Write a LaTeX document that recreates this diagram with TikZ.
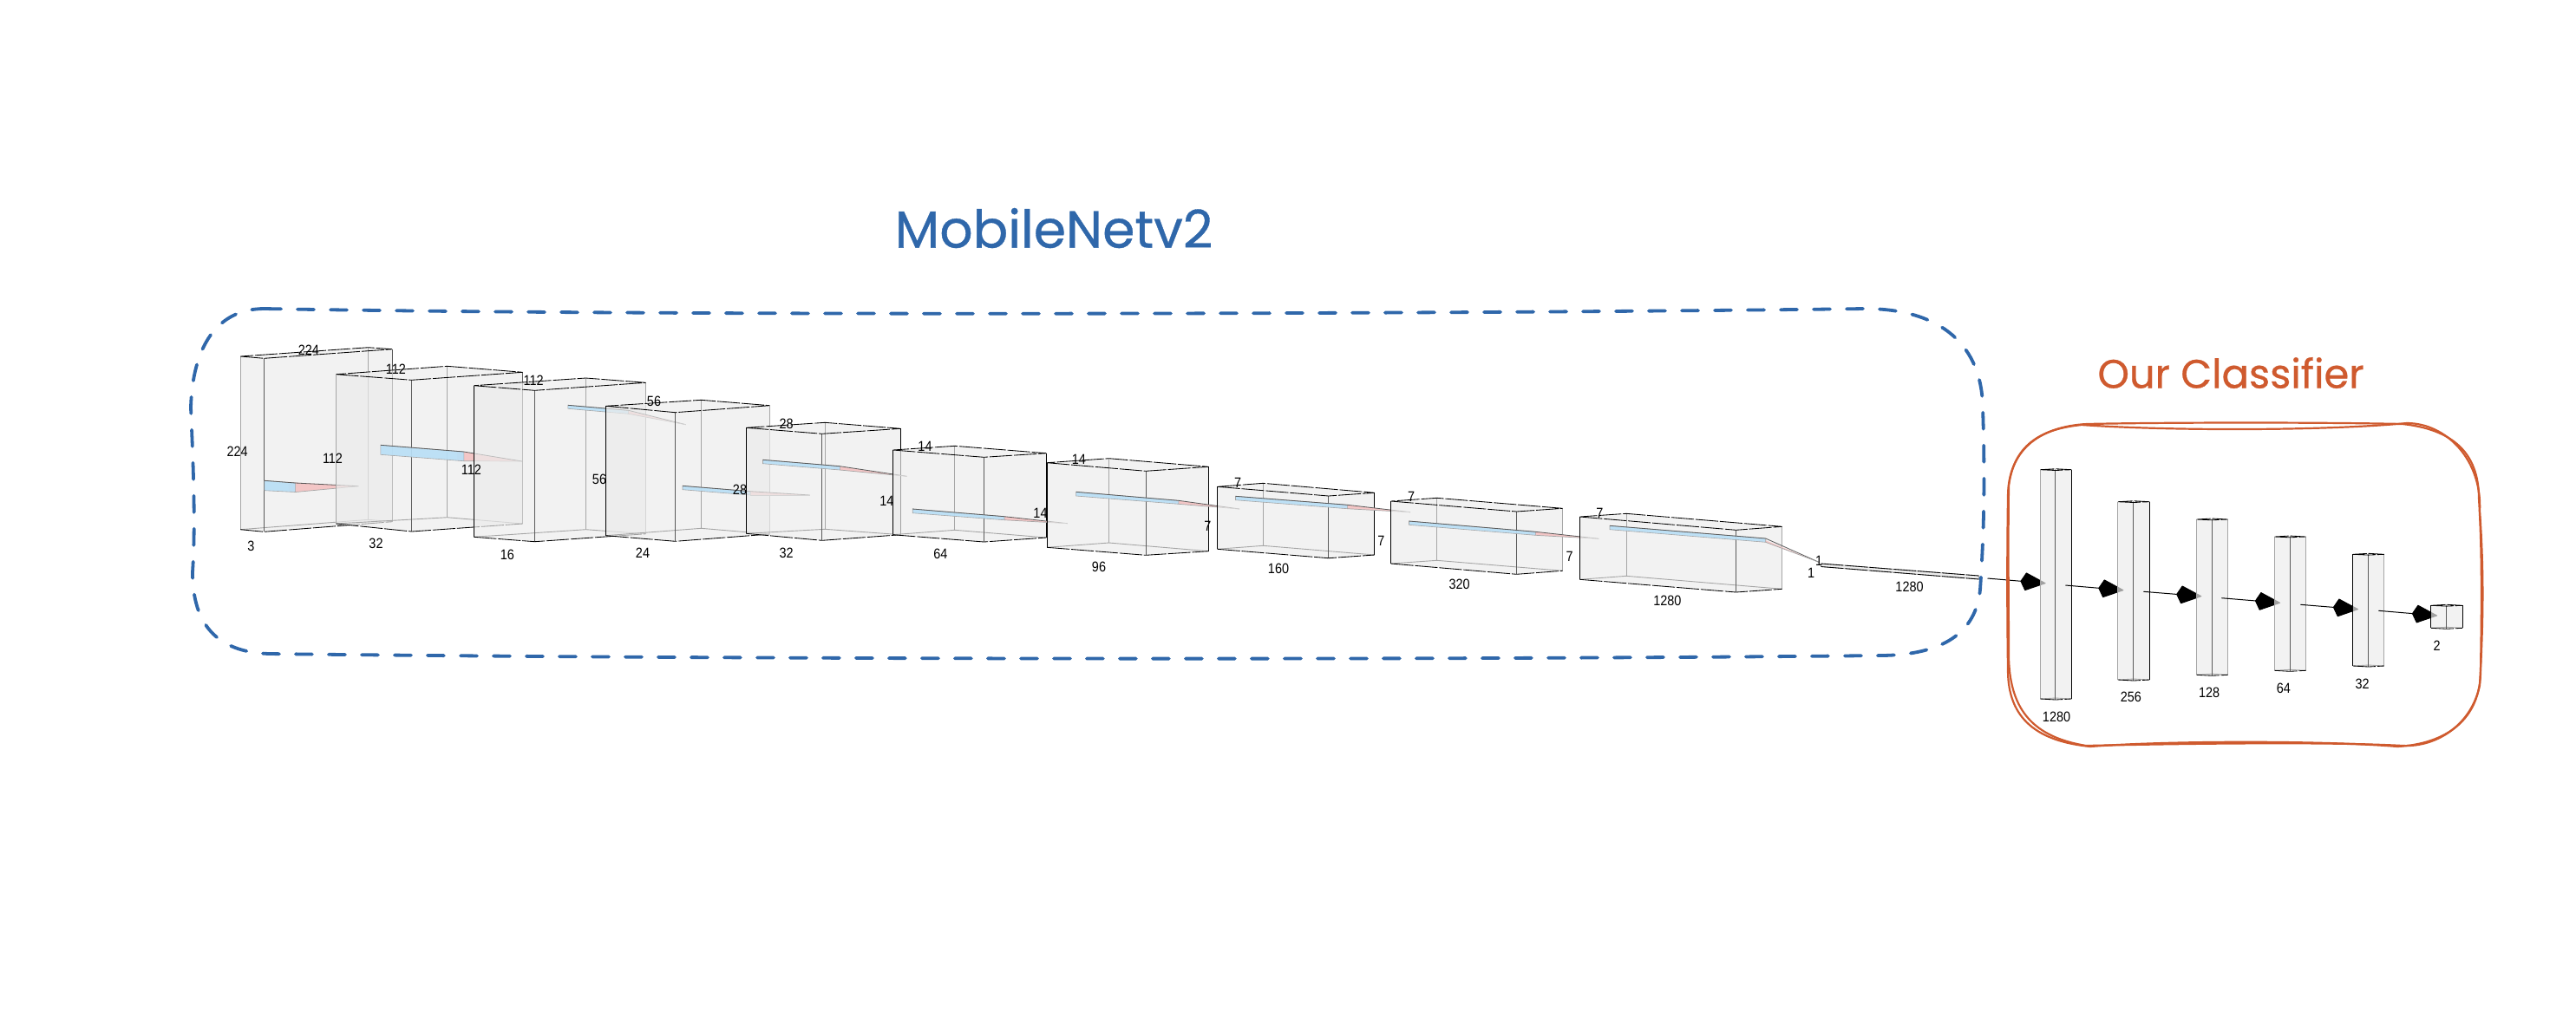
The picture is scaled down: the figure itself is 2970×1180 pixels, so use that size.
\documentclass[tikz,border=0pt]{standalone}
\usepackage{fontspec}
\setmainfont{Liberation Sans}
\newfontfamily\handfont[FakeBold=0.6]{Poppins}
\usetikzlibrary{arrows.meta}
\definecolor{sketchblue}{HTML}{2F67AA}
\definecolor{sketchorange}{HTML}{CF5A2E}
\definecolor{facegray}{HTML}{ECECEC}
\definecolor{edgegray}{HTML}{A6A6A6}
\definecolor{edgedark}{HTML}{5A5A5A}
\definecolor{wedgeblue}{HTML}{B9DFF6}
\definecolor{wedgepink}{HTML}{F3C6C6}
\tikzset{
  face/.style={fill=facegray,fill opacity=0.68,draw=none},
  edgek/.style={draw=black,line width=0.42pt,dash pattern=on 13pt off 1pt},
  edgeg/.style={draw=edgegray,line width=0.45pt},
  dim/.style={font=\fontsize{8.2pt}{9pt}\selectfont,inner sep=0pt,xscale=0.88},
  arr/.style={draw=black,line width=0.5pt,-{Kite[length=15pt,width=10.5pt,inset=3pt,round]}},
  bluebox/.style={draw=sketchblue,line width=1.9pt,line cap=round,dash pattern=on 9.5pt off 9.5pt},
  orangebox/.style={draw=sketchorange,line width=1.1pt,line cap=round},
  bluet/.style={text=sketchblue,font=\handfont\fontsize{30pt}{34pt}\selectfont,inner sep=0pt},
  oranget/.style={text=sketchorange,font=\handfont\fontsize{23.2pt}{27pt}\selectfont,inner sep=0pt}
}
% A top, A bottom, B top, B bottom, C top, C bottom, D top, D bottom, colours A/C
\def\splitcol#1/#2\end{\def\colA{#1}\def\colC{#2}}
\newcommand{\cub}[9]{%
  \splitcol#9\end
  \fill[face] (#1) -- (#7) -- (#5) -- (#6) -- (#4) -- (#2) -- cycle;
  \draw[edgeg] (#7) -- (#8);
  \draw[edgeg] (#2) -- (#8) -- (#6);
  \draw[edgeg,draw=\colA] (#1) -- (#2);
  \draw[edgeg,draw=\colC] (#5) -- (#6);
  \draw[edgeg,draw=edgedark] (#3) -- (#4);
  \draw[edgek] (#1) -- (#3) -- (#5) -- (#7) -- cycle;
  \draw[edgek] (#2) -- (#4) -- (#6);
}
% x1 t1 b1 x2 t2 b2 apex-x apex-y
\newcommand{\wdg}[8]{%
  \fill[wedgepink] (#4-8,#5-1) -- (#7,#8) -- (#4,#6) -- (#4-8,#6-0.5) -- cycle;
  \fill[wedgeblue,fill opacity=0.92] (#1,#2) -- (#4,#5) -- (#4,#6) -- (#1,#3) -- cycle;
  \draw[edgegray,line width=0.3pt] (#1,#2) -- (#4,#5) -- (#4,#6) -- (#1,#3) -- cycle;
  \draw[edgedark,line width=0.4pt] (#1,#2) -- (#4,#5) -- (#7,#8);
  \draw[edgegray,line width=0.35pt] (#4,#6) -- (#7,#8);
}
\begin{document}
\begin{tikzpicture}[x=0.5pt,y=-0.5pt]
\useasboundingbox (0,0) rectangle (2970,1180);
\fill[white] (0,0) rectangle (2970,1180);

% backbone cuboids and their convolution wedges
\cub{277.2,411}{277.2,610.7}{304.5,413.3}{304.5,613.3}{452.2,402.7}{452.2,601.7}{424.6,400.7}{424.6,599.3}{edgegray/edgedark}
\wdg{304.9}{554.3}{565.7}{340.6}{557}{567.5}{413.4}{560.7}
\cub{387.5,431.7}{387.5,604}{474.6,438.3}{474.6,613}{602.7,429.3}{602.7,604}{515.6,422.3}{515.6,596.7}{edgegray/edgedark}
\wdg{438.8}{513.3}{524.3}{534.8}{521}{531.7}{601.8}{532}
\cub{546.4,444.7}{546.4,619.3}{616.5,450.3}{616.5,624.7}{744.6,441.3}{744.6,615.7}{675.4,436}{675.4,610.7}{black/edgegray}
\wdg{654.9}{467.3}{471.3}{724.6}{473.3}{477.3}{790.6}{489.7}
\cub{698.7,468.3}{698.7,617.7}{778.6,475.7}{778.6,624.3}{887.5,467.7}{887.5,616}{808.5,461.3}{808.5,609.3}{black/edgegray}
\wdg{787}{560.3}{564.7}{865.2}{566.7}{571}{933.9}{571}
\cub{860.3,493.3}{860.3,615.3}{947.8,500.3}{947.8,623.3}{1038.4,494.3}{1038.4,616.7}{951.3,487.3}{951.3,610.3}{black/black}
\wdg{879.5}{530.3}{534.7}{968.3}{537.7}{542}{1045.5}{549.3}
\cub{1029.5,519}{1029.5,616.7}{1134.4,527.3}{1134.4,625}{1206.3,522.7}{1206.3,620}{1100.9,514.3}{1100.9,611.3}{black/black}
\wdg{1052.2}{587}{591.7}{1158}{595.7}{599.7}{1230.8}{603.7}
\cub{1207.1,533.7}{1207.1,631.3}{1321,543.3}{1321,640.3}{1393.3,538.3}{1393.3,635.7}{1278.6,528.7}{1278.6,626}{black/black}
\wdg{1240.6}{567.3}{572}{1358.9}{577.3}{581.3}{1429}{587}
\cub{1403.6,561.3}{1403.6,633.3}{1531.7,572}{1531.7,643.7}{1584.7,568.3}{1584.7,640}{1456.3,557.3}{1456.3,629.3}{black/black}
\wdg{1424.5}{572.3}{576.7}{1553.6}{582.3}{586.7}{1626}{590.7}
\cub{1603.6,578}{1603.6,650}{1748.5,590}{1748.5,662.3}{1801.5,586.3}{1801.5,658.3}{1656.6,574.3}{1656.6,646.3}{black/edgegray}
\wdg{1624.5}{601}{605.3}{1770.4}{613.3}{617.3}{1843.4}{621.3}
\cub{1821.4,596}{1821.4,668.3}{2001.5,611.3}{2001.5,683}{2054.6,607.3}{2054.6,679.3}{1875,592.3}{1875,664.3}{black/edgegray}
\wdg{1856}{606.3}{610.7}{2035.7}{621}{625.3}{2097}{648.3}

% flattened layer
\fill[facegray,draw=edgegray,line width=0.4pt] (2099.5,650) -- (2281.6,664) -- (2281.6,668) -- (2099.5,653.5) -- cycle;
\draw[edgek] (2099.5,650) -- (2281.6,664);
\draw[edgek] (2099.5,653.5) -- (2281.6,668);

% classifier
\coordinate (c0s) at (2291.5,667);
\coordinate (c0e) at (2358.5,672.7);
\draw[arr] (c0s) -- (c0e);
\cub{2352.3,541.7}{2352.3,806}{2369.9,542.5}{2369.9,807}{2388.3,541.7}{2388.3,806}{2369.9,540.7}{2369.9,805}{edgegray/black}
\coordinate (c1s) at (2381.4,675);
\coordinate (c1e) at (2448.4,680.7);
\draw[arr] (c1s) -- (c1e);
\cub{2441.9,578.7}{2441.9,784}{2459.9,579.5}{2459.9,785}{2478.2,578.7}{2478.2,784}{2459.9,577.7}{2459.9,783}{edgegray/black}
\coordinate (c2s) at (2471.4,682.3);
\coordinate (c2e) at (2538.3,687.7);
\draw[arr] (c2s) -- (c2e);
\cub{2532.6,599}{2532.6,778.3}{2550.2,599.8}{2550.2,779.3}{2568.6,599}{2568.6,778.3}{2550.2,598}{2550.2,777.3}{edgegray/edgegray}
\coordinate (c3s) at (2561.3,689.7);
\coordinate (c3e) at (2629,695.3);
\draw[arr] (c3s) -- (c3e);
\cub{2622.5,619}{2622.5,773.3}{2640.1,619.8}{2640.1,774.3}{2658.5,619}{2658.5,773.3}{2640.1,618}{2640.1,772.3}{edgegray/edgegray}
\coordinate (c4s) at (2652.4,697.3);
\coordinate (c4e) at (2719,702.7);
\draw[arr] (c4s) -- (c4e);
\cub{2712.8,639.3}{2712.8,768}{2730.8,640.1}{2730.8,769}{2748.8,639.3}{2748.8,768}{2730.8,638.3}{2730.8,767}{black/edgegray}
\coordinate (c5s) at (2742.3,704.3);
\coordinate (c5e) at (2810,710);
\draw[arr] (c5s) -- (c5e);
\cub{2802.8,698.3}{2802.8,724.3}{2820.8,699.1}{2820.8,725.3}{2839.1,698.3}{2839.1,724.3}{2820.8,697.3}{2820.8,723.3}{black/black}

% dimension labels
\node[dim] (n01) at (355.8,403.7) {224};
\node[dim] (n02) at (273.7,520.7) {224};
\node[dim] (n03) at (289.3,630) {3};
\node[dim] (n04) at (456.3,425.3) {112};
\node[dim] (n05) at (383.5,528.7) {112};
\node[dim] (n06) at (433.5,627) {32};
\node[dim] (n07) at (615.2,438.3) {112};
\node[dim] (n08) at (543.3,541.7) {112};
\node[dim] (n09) at (584.8,639.7) {16};
\node[dim] (n10) at (754,463.3) {56};
\node[dim] (n11) at (691,553.3) {56};
\node[dim] (n12) at (741,638) {24};
\node[dim] (n13) at (906.7,488.7) {28};
\node[dim] (n14) at (853,565.3) {28};
\node[dim] (n15) at (906.7,638.3) {32};
\node[dim] (n16) at (1066.5,514.7) {14};
\node[dim] (n17) at (1022.3,577.7) {14};
\node[dim] (n18) at (1084.4,638.7) {64};
\node[dim] (n19) at (1199.5,592.3) {14};
\node[dim] (n20) at (1243.8,529.7) {14};
\node[dim] (n21) at (1267,653.7) {96};
\node[dim] (n22) at (1392.4,607.3) {7};
\node[dim] (n23) at (1427.2,557.3) {7};
\node[dim] (n24) at (1474,656.3) {160};
\node[dim] (n25) at (1592.3,624) {7};
\node[dim] (n26) at (1627,573.3) {7};
\node[dim] (n27) at (1682.7,673.7) {320};
\node[dim] (n28) at (1809.7,642) {7};
\node[dim] (n29) at (1844.4,592) {7};
\node[dim] (n30) at (1922.4,693) {1280};
\node[dim] (n31) at (2097,646.7) {1};
\node[dim] (n32) at (2088,661) {1};
\node[dim] (n33) at (2201.5,676.7) {1280};
\node[dim] (n34) at (2371,826.7) {1280};
\node[dim] (n35) at (2456.8,804.3) {256};
\node[dim] (n36) at (2547.1,799.3) {128};
\node[dim] (n37) at (2632.9,794) {64};
\node[dim] (n38) at (2723.6,788.7) {32};
\node[dim] (n39) at (2809.7,745) {2};

% sketched frames
\draw[bluebox] (305,356) .. controls (800,365) and (1700,362) .. (2150,356)
  .. controls (2240,356) and (2285,400) .. (2286,470)
  .. controls (2289,560) and (2287,620) .. (2283,680)
  .. controls (2278,730) and (2240,755) .. (2170,756)
  .. controls (1600,762) and (800,760) .. (310,754)
  .. controls (250,752) and (222,720) .. (222,660)
  .. controls (226,600) and (222,520) .. (220,470)
  .. controls (222,400) and (250,356) .. (305,356);
\draw[orangebox] (2406,489) .. controls (2500,487) and (2680,487) .. (2770,489)
  .. controls (2825,495) and (2858,520) .. (2858,575)
  .. controls (2862,640) and (2861,710) .. (2860,773)
  .. controls (2860,830) and (2820,858) .. (2764,861)
  .. controls (2680,854) and (2500,854) .. (2410,861)
  .. controls (2350,855) and (2315,830) .. (2315,773)
  .. controls (2314,700) and (2314,640) .. (2315,573)
  .. controls (2315,520) and (2350,492) .. (2406,489);
\draw[orangebox] (2400,490) .. controls (2500,497) and (2680,497) .. (2775,488)
  .. controls (2820,488) and (2862,530) .. (2859,590)
  .. controls (2864,660) and (2863,720) .. (2859,790)
  .. controls (2850,835) and (2810,862) .. (2770,860)
  .. controls (2680,855) and (2500,858) .. (2405,860)
  .. controls (2345,850) and (2318,820) .. (2316,760)
  .. controls (2316,700) and (2315,640) .. (2316,560)
  .. controls (2322,515) and (2350,495) .. (2400,490);

% titles
\node[bluet] (title1) at (1215,263) {MobileNetv2};
\node[oranget] (title2) at (2572,430) {Our Classifier};
\end{tikzpicture}
\end{document}
